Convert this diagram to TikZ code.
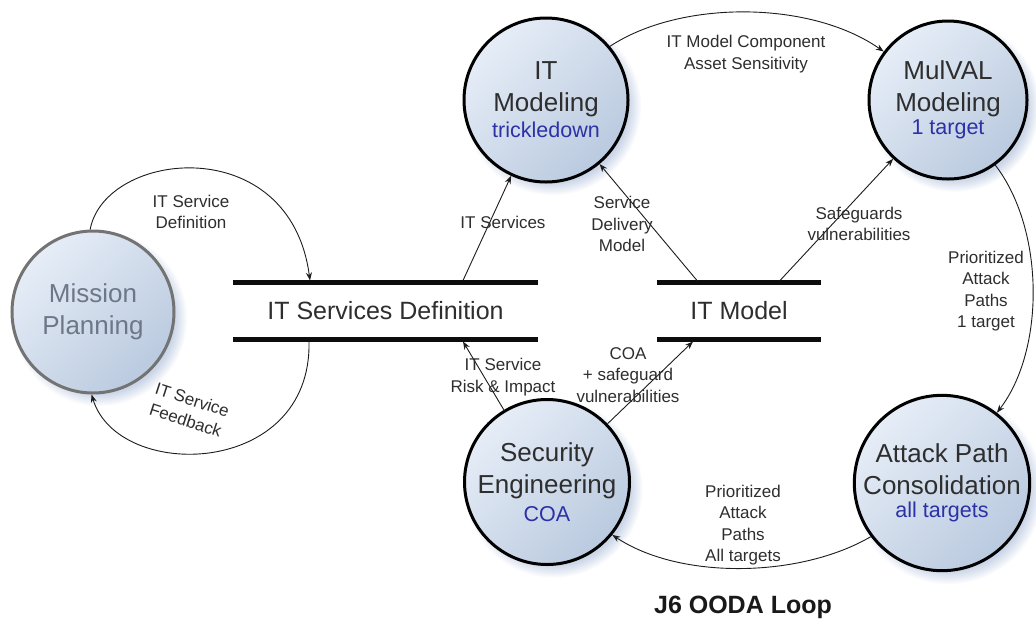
\documentclass[tikz,border=0pt]{standalone}
\usepackage{fontspec}
\setmainfont{Liberation Sans}
\usetikzlibrary{arrows.meta,shadows,fadings}
\definecolor{ink}{HTML}{2E2E2E}
\definecolor{subblue}{HTML}{2C31A6}
\definecolor{ballhi}{HTML}{E6EDF7}
\definecolor{balllo}{HTML}{BACADF}
\definecolor{halo}{HTML}{CBD6E8}
\definecolor{mpline}{HTML}{737373}
\definecolor{mptext}{HTML}{6D7788}
\definecolor{wire}{HTML}{1C1C1C}
\newcommand\subline[1]{{\fontsize{21.5}{32}\selectfont\color{subblue}#1}}

\begin{document}
\begin{tikzpicture}[x=1pt,y=-1pt,
  ball/.style={circle, draw=black, line width=3pt,
    top color=ballhi, bottom color=balllo, shading angle=45,
    minimum size=#1, inner sep=0pt, align=center, text=ink,
    font=\fontsize{26}{32}\selectfont,
    circular drop shadow={shadow xshift=6pt, shadow yshift=-6pt,
      shadow scale=1.08, fill=halo, opacity=1}},
  store/.style={inner sep=0pt, minimum height=56pt, text=ink,
    font=\fontsize{25}{30}\selectfont},
  bar/.style={draw=black!95, line width=5pt, line cap=butt},
  conn/.style={draw=wire, line width=0.9pt,
    -{Stealth[length=8pt,width=6pt]}},
  lbl/.style={align=center, text=ink, inner sep=0pt,
    font=\fontsize{17}{21.5}\selectfont}]

\useasboundingbox[fill=white] (0,0) rectangle (1036,625);

% processes
\node[ball=162pt, draw=mpline, text=mptext] (mp) at (93,312) {Mission\\Planning};
\node[ball=164pt] (itm) at (546,100) {IT\\Modeling\\[-6pt]\subline{trickledown}};
\node[ball=158pt] (mul) at (948,100) {MulVAL\\Modeling\\[-9pt]\subline{1 target}};
\node[ball=165pt] (sec) at (547,482) {Security\\Engineering\\[-4pt]\subline{COA}};
\node[ball=170pt] (apc) at (942,483) {Attack Path\\Consolidation\\[-9pt]\subline{all targets}};

% data stores
\node[store, minimum width=305pt] (isd) at (385.5,311) {IT Services Definition};
\node[store, minimum width=164pt] (itmod) at (739,311) {IT Model};
\draw[bar] (isd.north west) -- (isd.north east);
\draw[bar] (isd.south west) -- (isd.south east);
\draw[bar] (itmod.north west) -- (itmod.north east);
\draw[bar] (itmod.south west) -- (itmod.south east);

% attachment points on the store bars
\coordinate (isdT1) at (310,280.5);
\coordinate (isdT2) at (463,280.5);
\coordinate (isdB1) at (309,341.5);
\coordinate (isdB2) at (463,341.5);
\coordinate (itmodT1) at (697,280.5);
\coordinate (itmodT2) at (780,280.5);
\coordinate (itmodB1) at (693,341.5);

% flows
\draw[conn] (mp.92) .. controls (105,150) and (290,130) .. (isdT1);
\draw[conn] (isdB1) .. controls (312,478) and (118,482) .. (mp.-91);
\draw[conn] (isdT2) -- (itm);
\draw[conn] (itmodT1) -- (itm);
\draw[conn] (itmodT2) -- (mul.-133);
\draw[conn] (itm.40) .. controls (680,0) and (810,0) .. (mul.143);
\draw[conn] (mul.-54) .. controls (1045,230) and (1045,350) .. (apc.52);
\draw[conn] (apc.217) .. controls (800,578) and (680,580) .. (sec.-39);
\draw[conn] (sec) -- (isdB2);
\draw[conn] (sec) -- (itmodB1);

% flow labels
\node[lbl] (l1) at (191,212) {IT Service\\Definition};
\node[lbl, rotate=-18] (l2) at (189,410) {IT Service\\Feedback};
\node[lbl] (l3) at (503,222) {IT Services};
\node[lbl] (l4) at (622,224) {Service\\Delivery\\Model};
\node[lbl] (l5) at (859,224) {Safeguards\\vulnerabilities};
\node[lbl] (l6) at (746,54) {IT Model Component\\Asset Sensitivity};
\node[lbl] (l7) at (986,291) {Prioritized\\Attack\\Paths\\1 target};
\node[lbl] (l8) at (743,525) {Prioritized\\Attack\\Paths\\All targets};
\node[lbl] (l9) at (503,377) {IT Service\\Risk \& Impact};
\node[lbl] (l10) at (628,375) {COA\\+ safeguard\\vulnerabilities};

\node[text=black!90, font=\bfseries\fontsize{25}{30}\selectfont] (ttl) at (743,607) {J6 OODA Loop};
\end{tikzpicture}
\end{document}
